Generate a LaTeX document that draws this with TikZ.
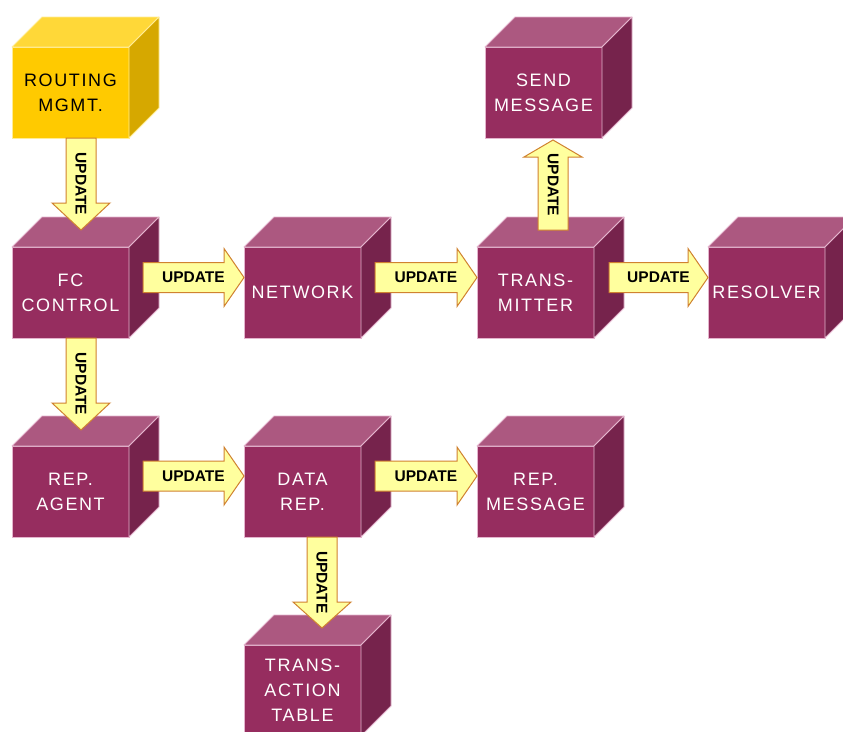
\documentclass[tikz,border=0pt]{standalone}
\usepackage{fontspec}
\setmainfont{Liberation Sans}
\newfontfamily\boxfont[LetterSpace=9]{Liberation Sans}
\usetikzlibrary{calc}

% box colours: m = magenta process boxes, g = gold source box
\definecolor{mfront}{RGB}{150,45,95}
\definecolor{mtop}{RGB}{172,88,128}
\definecolor{mside}{RGB}{118,35,76}
\definecolor{medge}{RGB}{228,180,205}
\definecolor{gfront}{RGB}{255,202,0}
\definecolor{gtop}{RGB}{255,216,56}
\definecolor{gside}{RGB}{214,168,0}
\definecolor{gedge}{RGB}{255,236,150}
\definecolor{arrowfill}{RGB}{255,255,158}
\definecolor{arrowline}{RGB}{208,130,48}

\tikzset{
  cubefront/.style={minimum width=117pt, minimum height=91pt, inner sep=0pt,
    outer sep=0pt, align=center, line width=0.8pt,
    font=\boxfont\fontsize{18}{25}\selectfont},
  magentabox/.style={cubefront, fill=mfront, draw=medge, text=white},
  goldbox/.style={cubefront, fill=gfront, draw=gedge, text=black},
  cubeline/.style={line width=0.8pt, line join=round},
  flowarrow/.style={fill=arrowfill, draw=arrowline, line width=1pt, line join=miter},
  flowlabel/.style={inner sep=0pt, text=black, font=\bfseries\fontsize{15.5}{16}\selectfont}
}

% top and right faces of a cube whose front face is node #1
\newcommand\cubesides[2]{%
  \filldraw[fill=#2top, draw=#2edge, cubeline] (#1.north west) -- ++(30,-30)
    -- ([shift={(30pt,30pt)}]#1.north east) -- (#1.north east) -- cycle;
  \filldraw[fill=#2side, draw=#2edge, cubeline] (#1.north east) -- ++(30,-30)
    -- ([shift={(30pt,30pt)}]#1.south east) -- (#1.south east) -- cycle;
}

% block arrow labelled UPDATE: #1 label name, #2 start, #3 tip,
% #4 head length, #5 label rotation
\newcommand\flow[5]{%
  \coordinate (fs) at #2;
  \coordinate (ft) at #3;
  \coordinate (fb) at ($(ft)!#4!(fs)$);
  \draw[flowarrow] ($(fs)!15pt!90:(ft)$) -- ($(fb)!15pt!90:(ft)$)
    -- ($(fb)!29pt!90:(ft)$) -- (ft) -- ($(fb)!29pt!-90:(ft)$)
    -- ($(fb)!15pt!-90:(ft)$) -- ($(fs)!15pt!-90:(ft)$) -- cycle;
  \node[flowlabel, rotate=#5] (#1) at ($(fs)!0.5!(ft)$) {UPDATE};
}

\begin{document}
\begin{tikzpicture}[x=1pt,y=-1pt]
\useasboundingbox (0,0) rectangle (843,731);
\clip (0,0) rectangle (843,731);
\fill[white] (0,0) rectangle (843,731);

% boxes
\node[goldbox] (routing) at (70.5,92.5) {ROUTING\\MGMT.};
\cubesides{routing}{g}
\node[magentabox] (send) at (543.5,92.5) {SEND\\MESSAGE};
\cubesides{send}{m}

\node[magentabox] (fc) at (70.5,292.5) {FC\\CONTROL};
\cubesides{fc}{m}
\node[magentabox] (net) at (302.5,292.5) {NETWORK};
\cubesides{net}{m}
\node[magentabox] (trans) at (535.5,292.5) {TRANS-\\MITTER};
\cubesides{trans}{m}
\node[magentabox] (res) at (766.5,292.5) {RESOLVER};
\cubesides{res}{m}

\node[magentabox] (repag) at (70.5,491.5) {REP.\\AGENT};
\cubesides{repag}{m}
\node[magentabox] (data) at (302.5,491.5) {DATA\\REP.};
\cubesides{data}{m}
\node[magentabox] (repmsg) at (535.5,491.5) {REP.\\MESSAGE};
\cubesides{repmsg}{m}

\node[magentabox] (table) at (302.5,690.5) {TRANS-\\ACTION\\TABLE};
\cubesides{table}{m}

% update flows
\flow{u1}{([xshift=10.5pt]routing.south)}{([xshift=10.5pt,yshift=17pt]fc.north)}{27pt}{-90}
\flow{u2}{([shift={(14pt,15pt)}]fc.east)}{([yshift=15pt]net.west)}{20pt}{0}
\flow{u3}{([shift={(14pt,15pt)}]net.east)}{([yshift=15pt]trans.west)}{20pt}{0}
\flow{u4}{([shift={(15pt,15pt)}]trans.east)}{([yshift=15pt]res.west)}{20pt}{0}
\flow{u5}{([xshift=17.5pt,yshift=17pt]trans.north)}{([xshift=9.5pt,yshift=-2pt]send.south)}{17pt}{-90}
\flow{u6}{([xshift=10.5pt]fc.south)}{([xshift=10.5pt,yshift=16pt]repag.north)}{27pt}{-90}
\flow{u7}{([shift={(14pt,15.5pt)}]repag.east)}{([yshift=15.5pt]data.west)}{20pt}{0}
\flow{u8}{([shift={(14pt,15.5pt)}]data.east)}{([yshift=15.5pt]repmsg.west)}{20pt}{0}
\flow{u9}{([xshift=19.5pt]data.south)}{([xshift=19.5pt,yshift=17pt]table.north)}{26pt}{-90}
\end{tikzpicture}
\end{document}
